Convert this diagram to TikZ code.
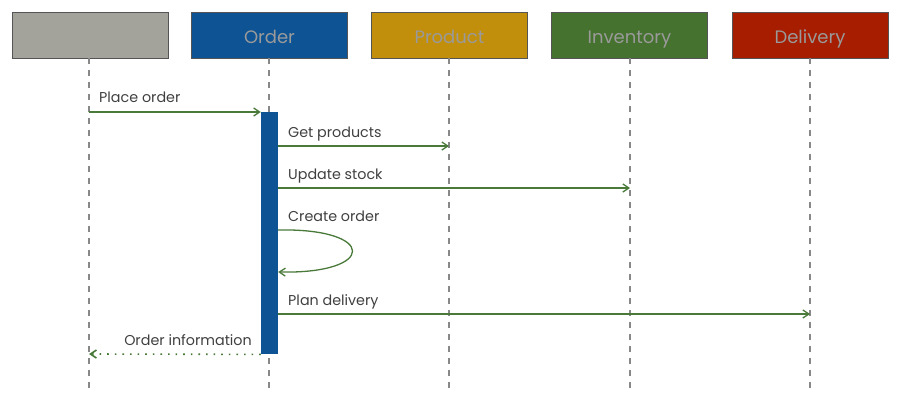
\documentclass[tikz,border=0pt]{standalone}
\usepackage{fontspec}
\setmainfont{Poppins}
\usetikzlibrary{arrows.meta}
\definecolor{cgray}{HTML}{A3A39B}
\definecolor{cblue}{HTML}{0E5494}
\definecolor{cgold}{HTML}{C28F0C}
\definecolor{cgreen}{HTML}{45722F}
\definecolor{cred}{HTML}{A61D00}
\definecolor{cborder}{HTML}{555555}
\definecolor{arrowc}{HTML}{4A7A3A}
\definecolor{txt}{HTML}{404040}
\definecolor{lifec}{HTML}{888888}
\definecolor{headtxt}{HTML}{9A9A9A}
\tikzset{
  head/.style={draw=cborder, line width=0.8pt, minimum width=156pt, minimum height=46pt, inner sep=0pt, text height=18pt, text depth=2pt, text=headtxt, font=\fontsize{18}{20}\selectfont},
  life/.style={draw=lifec, line width=1.2pt, dash pattern=on 6pt off 6pt},
  msg/.style={draw=arrowc, line width=1.3pt, -{Straight Barb[length=6pt,width=8pt]}},
  lbl/.style={text=txt, font=\fontsize{14.3}{16}\selectfont, inner sep=0pt, anchor=base west}
}
\begin{document}
\begin{tikzpicture}[x=1pt,y=-1pt]
\useasboundingbox (0,0) rectangle (900,402);
\node[head, fill=cgray] (u) at (90,35) {};
\node[head, fill=cblue] (o) at (269.5,35) {Order};
\node[head, fill=cgold] (p) at (449.5,35) {Product};
\node[head, fill=cgreen] (i) at (629.5,35) {Inventory};
\node[head, fill=cred] (d) at (810,35) {Delivery};
\coordinate (ue) at (89,389);
\coordinate (oe) at (269,389);
\coordinate (pe) at (449,389);
\coordinate (ie) at (630,389);
\coordinate (de) at (810,389);
\draw[life] (89,58) -- (ue);
\draw[life] (269,58) -- (oe);
\draw[life] (449,58) -- (pe);
\draw[life] (630,58) -- (ie);
\draw[life] (810,58) -- (de);
\node[fill=cblue, minimum width=17pt, minimum height=242pt, inner sep=0pt, anchor=north] (act) at (269.5,112) {};
\coordinate (u1) at (89,112);
\coordinate (p1) at (449,146);
\coordinate (i1) at (630,188);
\coordinate (d1) at (810,314);
\coordinate (u2) at (89,354);
\draw[msg] (u1) -- (act.north west);
\node[lbl] (l1) at (99,102) {Place order};
\draw[msg] (act.east |- p1) -- (p1);
\node[lbl] (l2) at (288,137) {Get products};
\draw[msg] (act.east |- i1) -- (i1);
\node[lbl] (l3) at (288,179) {Update stock};
\draw[msg] (act.east |- 0,230) .. controls (377,228) and (377,274) .. (act.east |- 0,272);
\node[lbl] (l4) at (288,221) {Create order};
\draw[msg] (act.east |- d1) -- (d1);
\node[lbl] (l5) at (288,305) {Plan delivery};
\draw[msg, line width=1.6pt, dash pattern=on 1.6pt off 6pt] (act.south west) -- (u2);
\node[lbl, anchor=base east] (l6) at (252,345) {Order information};
\end{tikzpicture}
\end{document}
